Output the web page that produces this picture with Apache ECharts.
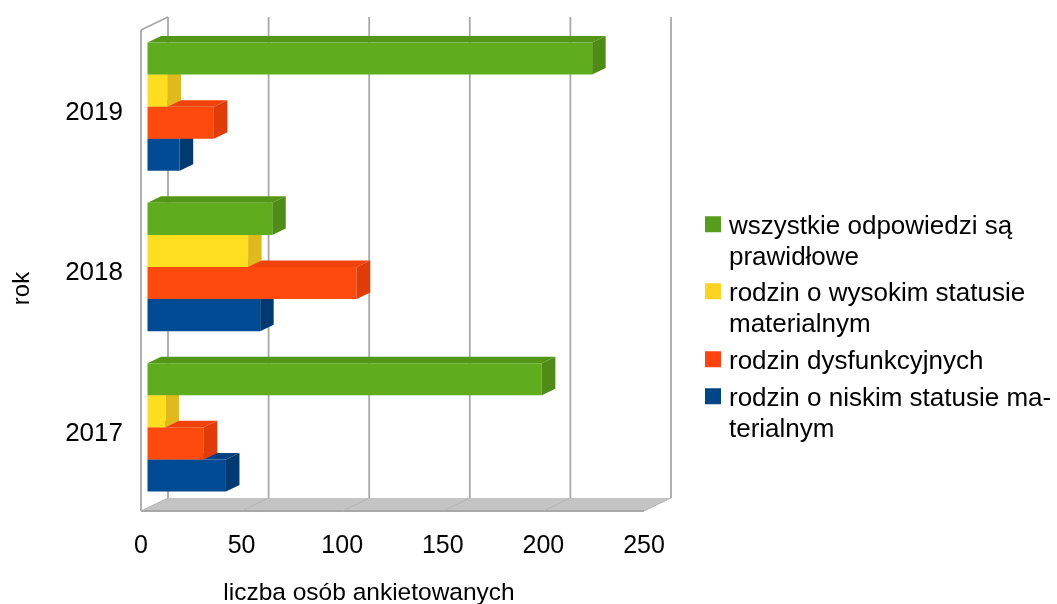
<!DOCTYPE html>
<html>
<head>
<meta charset="utf-8">
<style>html,body{margin:0;padding:0;background:#fff}#main{width:1057px;height:604px}</style>
<script src="https://cdn.jsdelivr.net/npm/echarts@6/dist/echarts.min.js"></script>
</head>
<body>
<div id="main"></div>
<script>
var years = ['2017', '2018', '2019'];
var xTicks = [0, 50, 100, 150, 200, 250];
var allCorrect = [196, 62, 221];
var highStatus = [9, 50, 10];
var dysfunctional = [28, 104, 33];
var lowStatus = [39, 56, 16];

var nameAllCorrect = 'wszystkie odpowiedzi są prawidłowe';
var nameHigh = 'rodzin o wysokim statusie materialnym';
var nameDys = 'rodzin dysfunkcyjnych';
var nameLow = 'rodzin o niskim statusie materialnym';

// wrapped the same way as the original legend
var wrapped = {};
wrapped[nameAllCorrect] = 'wszystkie odpowiedzi są\nprawidłowe';
wrapped[nameHigh] = 'rodzin o wysokim statusie\nmaterialnym';
wrapped[nameDys] = 'rodzin dysfunkcyjnych';
wrapped[nameLow] = 'rodzin o niskim statusie ma-\nterialnym';

var FONT = 'Liberation Sans';
var WALL_DX = 27, WALL_DY = 13;   // depth of the whole chart box
var BAR_OFF_X = 6.5, BAR_OFF_Y = 3.5; // where the bars sit inside the box
var BAR_DX = 13.5, BAR_DY = 6.5;  // depth of one bar
var LINE = '#a8a8a8';

function poly(points, fill) {
  return { type: 'polygon', shape: { points: points }, style: { fill: fill }, silent: true };
}

// one 3d bar; slot 0 is the lowest bar of the group, slot 3 the top one
function barRenderer(slot, front, top, side) {
  return function (params, api) {
    var end = api.coord([api.value(0), api.value(1)]);
    var start = api.coord([0, api.value(1)]);
    var h = api.size([0, 1])[1] / 5;
    var x0 = start[0] + BAR_OFF_X, x1 = end[0] + BAR_OFF_X;
    var y1 = start[1] - BAR_OFF_Y + (2 - slot) * h;
    var y0 = y1 - h;
    return {
      type: 'group',
      children: [
        poly([[x0, y0], [x0 + BAR_DX, y0 - BAR_DY], [x1 + BAR_DX, y0 - BAR_DY], [x1, y0]], top),
        poly([[x1, y0], [x1 + BAR_DX, y0 - BAR_DY], [x1 + BAR_DX, y1 - BAR_DY], [x1, y1]], side),
        poly([[x0, y0], [x1, y0], [x1, y1], [x0, y1]], front)
      ]
    };
  };
}

function barSeries(name, values, slot, legendColor, front, top, side) {
  return {
    name: name,
    type: 'custom',
    itemStyle: { color: legendColor },
    renderItem: barRenderer(slot, front, top, side),
    encode: { x: 0, y: 1 },
    data: values.map(function (v, i) { return [v, years[i]]; }),
    z: 5
  };
}

function seg(a, b, width, color) {
  return {
    type: 'line',
    shape: { x1: a[0], y1: a[1], x2: b[0], y2: b[1] },
    style: { stroke: color || LINE, lineWidth: width || 1.8 },
    silent: true
  };
}

// floor, left wall and back wall lines, one set per x tick
function wallRenderer(params, api) {
  var sys = params.coordSys;
  var x = api.coord([api.value(0), years[0]])[0];
  var topY = sys.y, botY = sys.y + sys.height;
  var kids = [];
  if (params.dataIndex === 0) {
    var xEnd = sys.x + sys.width;
    kids.push(poly([[x, botY], [x + WALL_DX, botY - WALL_DY], [xEnd + WALL_DX, botY - WALL_DY], [xEnd, botY]], '#c4c4c4'));
    kids.push(seg([x, topY], [x, botY]));
    kids.push(seg([x, topY], [x + WALL_DX, topY - WALL_DY]));
    kids.push(seg([x, botY], [xEnd, botY]));
  }
  kids.push(seg([x + WALL_DX, topY - WALL_DY], [x + WALL_DX, botY - WALL_DY]));
  kids.push(seg([x, botY], [x + WALL_DX, botY - WALL_DY], 1, '#b4b4b4'));
  return { type: 'group', children: kids };
}

// the square is kept at the first text line, the empty tail of the path stretches the bbox
var TWO_LINE_ICON = 'path://M0 0H16V16H0Z M0 52.5H0';
var ONE_LINE_ICON = 'path://M0 0H16V16H0Z M0 22H0';

function legendFor(name, top, twoLines) {
  return {
    show: true,
    left: 705,
    top: top,
    padding: 0,
    orient: 'vertical',
    selectedMode: false,
    data: [name],
    icon: twoLines ? TWO_LINE_ICON : ONE_LINE_ICON,
    itemWidth: 16,
    itemHeight: twoLines ? 52.5 : 22,
    formatter: function (n) { return wrapped[n]; },
    textStyle: { fontFamily: FONT, fontSize: 26, color: '#000', lineHeight: 30.5, padding: [0, 0, 0, 3] }
  };
}

var dom = document.getElementById('main');
var myChart = echarts.init(dom, null, { renderer: 'canvas' });

var option = {
  animation: false,
  backgroundColor: '#fff',
  textStyle: { fontFamily: FONT },
  grid: { left: 141, top: 30, width: 503, height: 481, outerBoundsMode: 'none' },
  legend: [
    legendFor(nameAllCorrect, 212, true),
    legendFor(nameHigh, 279, true),
    legendFor(nameDys, 347, false),
    legendFor(nameLow, 384, true)
  ],
  xAxis: {
    type: 'value',
    min: 0,
    max: 250,
    interval: 50,
    splitLine: { show: false },
    axisLine: { show: false },
    axisTick: { show: false },
    axisLabel: { fontFamily: FONT, fontSize: 25, color: '#000', margin: 23, hideOverlap: false },
    name: 'liczba osób ankietowanych',
    nameLocation: 'middle',
    nameGap: 70,
    nameTextStyle: { fontFamily: FONT, fontSize: 24.5, color: '#000', padding: [0, 47, 0, 0] }
  },
  yAxis: {
    type: 'category',
    data: years,
    splitLine: { show: false },
    axisLine: { show: false },
    axisTick: { show: false },
    axisLabel: {
      margin: 18,
      formatter: '{y|{value}}',
      rich: { y: { fontFamily: FONT, fontSize: 26, color: '#000', padding: [5, 0, 0, 0] } }
    },
    name: 'rok',
    nameLocation: 'middle',
    nameGap: 107,
    nameRotate: 90,
    nameTextStyle: { fontFamily: FONT, fontSize: 24, color: '#000', padding: [0, 36, 0, 0] }
  },
  series: [
    {
      type: 'custom',
      name: 'walls',
      renderItem: wallRenderer,
      encode: { x: 0 },
      data: xTicks.map(function (t) { return [t]; }),
      z: 1
    },
    barSeries(nameLow, lowStatus, 0, '#004586', '#004b94', '#00427f', '#003a70'),
    barSeries(nameDys, dysfunctional, 1, '#ff420e', '#ff4a0e', '#f0420b', '#e03c0a'),
    barSeries(nameHigh, highStatus, 2, '#ffd320', '#ffde20', '#e8c41c', '#e0b91c'),
    barSeries(nameAllCorrect, allCorrect, 3, '#579d1c', '#5fad1f', '#549718', '#4f8c16')
  ]
};

myChart.setOption(option);
</script>
</body>
</html>
